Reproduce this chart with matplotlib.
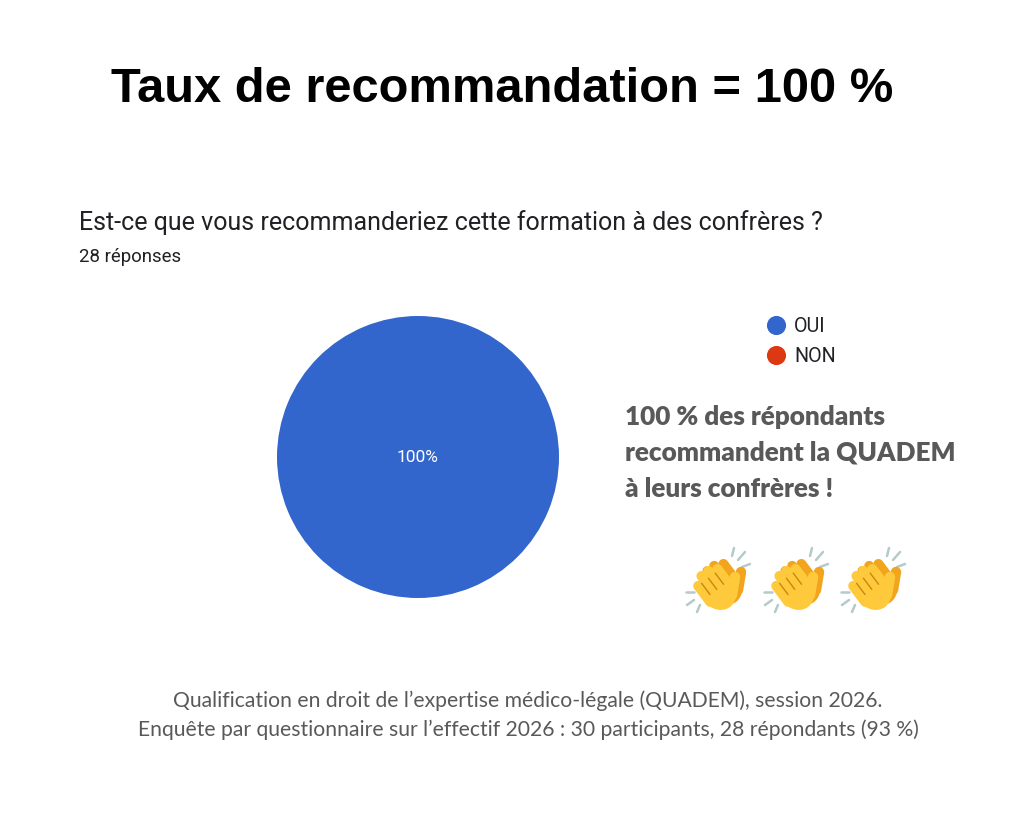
import matplotlib.pyplot as plt
import numpy as np
from matplotlib.patches import Ellipse

# survey answers
labels = ['OUI', 'NON']
counts = [28, 0]
colors = ['#3366CC', '#DC3912']
n_responses = 28

title = 'Taux de recommandation = 100 %'
question = 'Est-ce que vous recommanderiez cette formation à des confrères ?'
comment = ['100 % des répondants', 'recommandent la QUADEM', 'à leurs confrères !']
footer = ['Qualification en droit de l\u2019expertise médico-légale (QUADEM), session 2026.',
          'Enquête par questionnaire sur l\u2019effectif 2026 : 30 participants, 28 répondants (93 %)']

W, H = 1024, 819
fig = plt.figure(figsize=(W / 100, H / 100), dpi=100)
fig.patch.set_facecolor('white')

# overlay in pixel coordinates for texts and decoration
ov = fig.add_axes([0, 0, 1, 1])
ov.set_xlim(0, W)
ov.set_ylim(H, 0)
ov.axis('off')

ov.text(502, 90, title, ha='center', va='center', fontsize=35.2,
        fontweight='bold', family='Liberation Sans', color='black')
ov.text(79, 223, question, ha='left', va='center', fontsize=18,
        family='Roboto', color='#202124')
ov.text(79, 257, f'{n_responses} réponses', ha='left', va='center', fontsize=13.4,
        family='Roboto', color='#202124')

# pie
r = 141
cx, cy = 418, 457
pax = fig.add_axes([(cx - r) / W, 1 - (cy + r) / H, 2 * r / W, 2 * r / H])
pax.pie(counts, colors=colors, startangle=90, counterclock=False,
        autopct=lambda p: f'{p:.0f}%' if p > 0 else '', pctdistance=0,
        textprops=dict(color='white', fontsize=12.5, family='Roboto'),
        wedgeprops=dict(linewidth=0))
pax.set_xlim(-1, 1)
pax.set_ylim(-1, 1)
pax.set_aspect('equal')

# legend
for i, (lab, col) in enumerate(zip(labels, colors)):
    y = 325 + 30 * i
    ov.scatter([776], [y], s=190, color=col, zorder=3, linewidths=0)
    ov.text(794, y + 1, lab, ha='left', va='center', fontsize=14.2,
            family='Roboto', color='#202124')

for i, line in enumerate(comment):
    ov.text(625, 417 + 36 * i, line, ha='left', va='center', fontsize=18.8,
            fontweight='heavy', family='Lato', color='#595959')

for i, line in enumerate(footer):
    ov.text(528, 701 + 29 * i, line, ha='center', va='center', fontsize=15.2,
            family='Lato', color='#595959')


# rough clapping hands decoration (pixel units)
def hand(x, y, face, edge, z):
    d = np.array([-0.6, -0.8])   # finger direction
    p = np.array([0.8, -0.6])    # across the fingers
    palm = np.array([x, y])
    ov.add_patch(Ellipse(palm, 34, 40, angle=-37, facecolor=face,
                         edgecolor='none', zorder=z))
    for k, length in zip([-1.5, -0.5, 0.5, 1.5], [20, 26, 26, 22]):
        base = palm + p * k * 8.5 - d * 4
        tip = base + d * length
        ov.plot([base[0], tip[0]], [base[1], tip[1]], color=face, lw=7.2,
                solid_capstyle='round', zorder=z)
    for k in [-1, 0, 1]:
        a = palm + p * k * 8.5 + d * 2
        b = a + d * 14
        ov.plot([a[0], b[0]], [a[1], b[1]], color=edge, lw=1.0,
                solid_capstyle='round', zorder=z + 0.5)
    # thumb
    t0 = palm + np.array([14, 4])
    t1 = palm + np.array([17, -14])
    ov.plot([t0[0], t1[0]], [t0[1], t1[1]], color=face, lw=7.5,
            solid_capstyle='round', zorder=z)


def clap(x, y):
    hand(x + 6, y + 2, '#F2A51C', '#C07A10', 4)
    hand(x, y + 7, '#FFC93C', '#C98612', 5)
    spark = '#B5CACA'
    for dx0, dy0, dx1, dy1 in [(14, -28, 16, -36), (20, -24, 27, -32), (24, -17, 32, -20)]:
        ov.plot([x + dx0, x + dx1], [y + dy0, y + dy1], color=spark, lw=1.8,
                solid_capstyle='round', zorder=3)
    for dx0, dy0, dx1, dy1 in [(-24, 8, -32, 8), (-24, 16, -31, 21), (-18, 21, -21, 28)]:
        ov.plot([x + dx0, x + dx1], [y + dy0, y + dy1], color=spark, lw=1.8,
                solid_capstyle='round', zorder=3)


for ex in [718, 796, 873]:
    clap(ex, 584)

fig.savefig('out.png', dpi=100, facecolor='white')
